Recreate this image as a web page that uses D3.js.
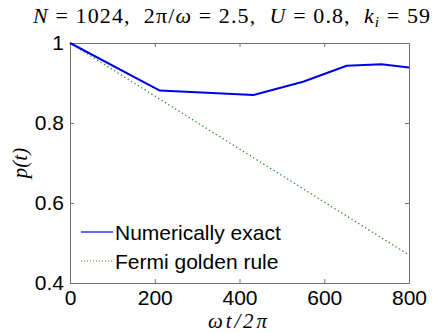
<!DOCTYPE html>
<html>
<head>
<meta charset="utf-8">
<script src="https://cdn.jsdelivr.net/npm/d3@7"></script>
<style>
	body { margin: 0; background: #fff; }
	svg { display: block; }
	.tick text { font-family: 'Liberation Sans', Arial, sans-serif; font-size: 21px; fill: #000; }
	.domain, .tick line { stroke: #707070; }
	.mathText { font-family: 'Liberation Serif', 'Times New Roman', serif; fill: #000; }
	.legText { font-family: 'Liberation Sans', Arial, sans-serif; font-size: 21px; fill: #000; }
</style>
</head>
<body>
<script>
// values
var exactT = [0, 212, 433, 550, 653, 735, 800];
var exactP = [1, 0.881, 0.870, 0.903, 0.943, 0.947, 0.939];
var fgrT = [0, 800];
var fgrP = [1, 0.47];
var xTicks = [0, 200, 400, 600, 800];
var yTicks = [0.4, 0.6, 0.8, 1];
var legendNames = ['Numerically exact', 'Fermi golden rule'];

var W = 448, H = 333;
var box = {left: 70, right: 409, top: 43, bottom: 283};

var svg = d3.select('body').append('svg')
	.attr('width', W)
	.attr('height', H);

var x = d3.scaleLinear().domain([0, 800]).range([box.left, box.right]);
var y = d3.scaleLinear().domain([0.4, 1]).range([box.bottom, box.top]);

// axes, matlab style: ticks inside, box on all four sides
addAxes = function(){
	svg.append('g')
		.attr('transform', 'translate(0,' + box.bottom + ')')
		.call(d3.axisBottom(x).tickValues(xTicks).tickFormat(d3.format('d')).tickSizeInner(-4).tickSizeOuter(0).tickPadding(7));
	svg.append('g')
		.attr('transform', 'translate(0,' + box.top + ')')
		.call(d3.axisTop(x).tickValues(xTicks).tickFormat('').tickSizeInner(-4).tickSizeOuter(0));
	svg.append('g')
		.attr('transform', 'translate(' + box.left + ',0)')
		.call(d3.axisLeft(y).tickValues(yTicks).tickFormat(d3.format('~g')).tickSizeInner(-4).tickSizeOuter(0).tickPadding(6));
	svg.append('g')
		.attr('transform', 'translate(' + box.right + ',0)')
		.call(d3.axisRight(y).tickValues(yTicks).tickFormat('').tickSizeInner(-4).tickSizeOuter(0));
	svg.selectAll('.tick text').attr('fill', '#000');
};

addLines = function(){
	var line = d3.line()
		.x(function(d) { return x(d[0]); })
		.y(function(d) { return y(d[1]); });

	svg.append('path')
		.datum(d3.zip(fgrT, fgrP))
		.attr('fill', 'none')
		.attr('stroke', '#2a8a2a')
		.attr('stroke-width', 1.3)
		.attr('stroke-dasharray', '1.3,2.7')
		.attr('d', line);

	svg.append('path')
		.datum(d3.zip(exactT, exactP))
		.attr('fill', 'none')
		.attr('stroke', '#0000e6')
		.attr('stroke-width', 2)
		.attr('stroke-linejoin', 'round')
		.attr('d', line);
};

addLegend = function(){
	var lg = svg.append('g').attr('class', 'legend');
	var styles = [
		{color: '#0000e6', dash: null, w: 1.2},
		{color: '#2a9a2a', dash: '1,2', w: 1}
	];
	legendNames.forEach(function(name, i){
		var ly = 232 + i * 29;
		lg.append('line')
			.attr('x1', 81).attr('x2', 113)
			.attr('y1', ly).attr('y2', ly)
			.attr('stroke', styles[i].color)
			.attr('stroke-width', styles[i].w)
			.attr('stroke-dasharray', styles[i].dash);
		lg.append('text')
			.attr('class', 'legText')
			.attr('x', 115)
			.attr('y', ly + 7.5)
			.text(name);
	});
};

addLabels = function(){
	// title, stretched to the width of the tex rendering
	var t = svg.append('text')
		.attr('class', 'mathText')
		.attr('x', 33)
		.attr('y', 23)
		.attr('font-size', 22)
		.attr('textLength', 397)
		.attr('lengthAdjust', 'spacing');
	var parts = [
		['N', 'italic'], [' = 1024,  2π/', 'normal'], ['ω', 'italic'], [' = 2.5,  ', 'normal'],
		['U', 'italic'], [' = 0.8,  ', 'normal'], ['k', 'italic']
	];
	parts.forEach(function(p){
		t.append('tspan').attr('font-style', p[1]).attr('xml:space', 'preserve').text(p[0]);
	});
	t.append('tspan').attr('font-style', 'italic').attr('font-size', 15).attr('dy', 4).text('i');
	t.append('tspan').attr('dy', -4).text(' = 59');

	// x label
	svg.append('text')
		.attr('class', 'mathText')
		.attr('x', 208)
		.attr('y', 328)
		.attr('font-size', 21)
		.attr('font-style', 'italic')
		.attr('textLength', 59)
		.attr('lengthAdjust', 'spacing')
		.text('ωt/2π');

	// y label
	svg.append('text')
		.attr('class', 'mathText')
		.attr('transform', 'translate(27,' + (box.top + box.bottom) / 2 + ') rotate(-90)')
		.attr('text-anchor', 'middle')
		.attr('font-size', 21)
		.attr('font-style', 'italic')
		.text('p(t)');
};

addAxes();
addLines();
addLegend();
addLabels();
</script>
</body>
</html>
